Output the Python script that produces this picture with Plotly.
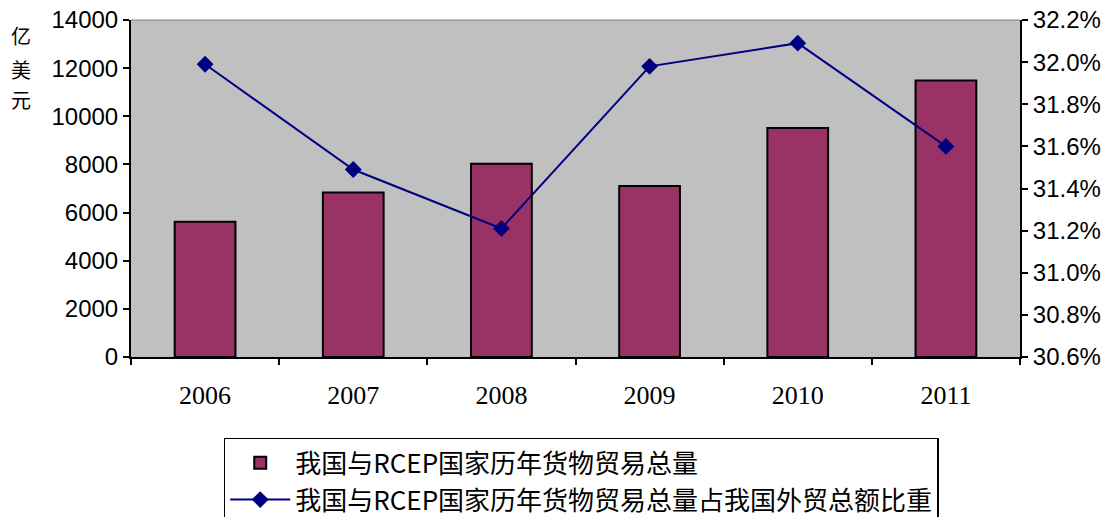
import plotly.graph_objects as go

years = ["2006", "2007", "2008", "2009", "2010", "2011"]
trade_total = [5620, 6830, 8030, 7100, 9510, 11490]
share_pct = [31.99, 31.49, 31.21, 31.98, 32.09, 31.60]

bar_name = "我国与RCEP国家历年货物贸易总量"
line_name = "我国与RCEP国家历年货物贸易总量占我国外贸总额比重"
unit_chars = ["亿", "美", "元"]

fig = go.Figure()
fig.add_trace(go.Bar(
    x=years, y=trade_total, name=bar_name,
    marker=dict(color="#993366", line=dict(color="black", width=2)),
    width=0.41, yaxis="y",
))
fig.add_trace(go.Scatter(
    x=years, y=share_pct, name=line_name, mode="lines+markers",
    line=dict(color="#000080", width=2),
    marker=dict(symbol="diamond", size=13, color="#000080"),
    yaxis="y2",
))

unit_y = [0.953, 0.852, 0.763]
annotations = [dict(
    text=ch, xref="paper", yref="paper", x=-0.1237, y=yy,
    xanchor="center", yanchor="middle", showarrow=False,
    font=dict(family="Noto Sans CJK SC", size=20, color="black"),
) for ch, yy in zip(unit_chars, unit_y)]

fig.update_layout(
    width=1112, height=509,
    margin=dict(l=123, r=100, t=12, b=160, autoexpand=False),
    plot_bgcolor="#c0c0c0", paper_bgcolor="white",
    showlegend=True,
    legend=dict(
        x=0.1043, y=-0.24, xanchor="left", yanchor="top",
        bordercolor="black", borderwidth=1.5, bgcolor="white",
        font=dict(family="Noto Sans CJK SC", size=26, color="black"),
        tracegroupgap=0, itemwidth=60,
    ),
    xaxis=dict(
        type="category", showgrid=False, automargin=False,
        showline=True, linecolor="black", linewidth=2,
        ticks="outside", tickson="boundaries", ticklen=6, tickcolor="black", tickwidth=2,
        tickfont=dict(family="Liberation Serif", size=26, color="black"),
        ticklabelstandoff=14,
        mirror=False,
    ),
    yaxis=dict(
        range=[0, 14000], dtick=2000, showgrid=False, automargin=False,
        showline=True, linecolor="black", linewidth=2,
        ticks="outside", ticklen=6, tickcolor="black", tickwidth=2,
        tickformat="d", ticklabeloverflow="allow",
        tickfont=dict(family="Liberation Sans", size=24, color="black"),
        zeroline=False,
    ),
    yaxis2=dict(
        range=[30.6, 32.2], dtick=0.2, overlaying="y", side="right", automargin=False,
        showgrid=False, showline=True, linecolor="black", linewidth=2,
        ticks="outside", ticklen=6, tickcolor="black", tickwidth=2,
        tickformat=".1f", ticksuffix="%", ticklabeloverflow="allow",
        tickfont=dict(family="Liberation Sans", size=24, color="black"),
        zeroline=False,
    ),
    shapes=[dict(type="line", xref="paper", yref="paper", x0=0, x1=1, y0=1, y1=1,
                 line=dict(color="#808080", width=1))],
    annotations=annotations,
)

fig.write_html("out.html")
